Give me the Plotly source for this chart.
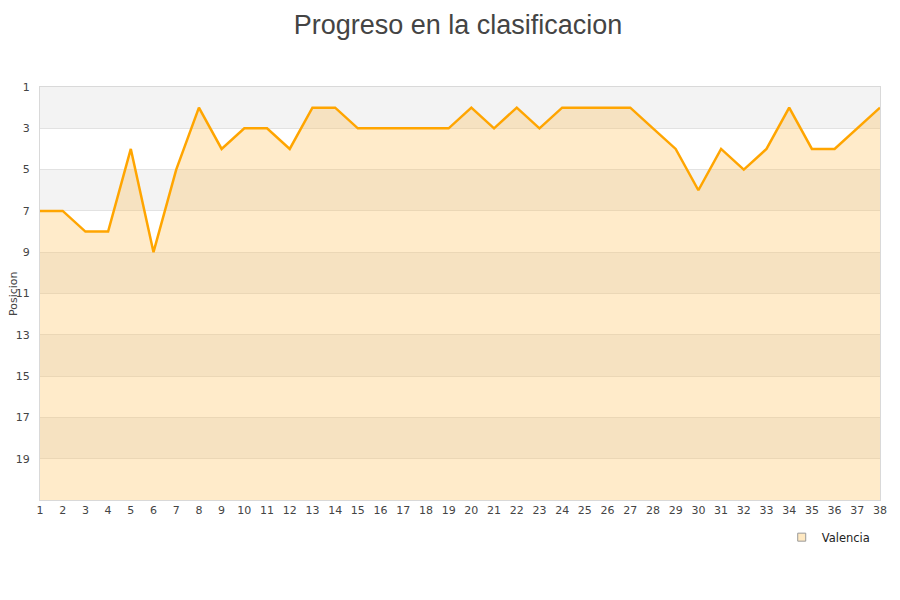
import plotly.graph_objects as go

jornadas = list(range(1, 39))
posiciones = [7, 7, 8, 8, 4, 9, 5, 2, 4, 3, 3, 4, 2, 2, 3, 3, 3, 3, 3, 2,
              3, 2, 3, 2, 2, 2, 2, 3, 4, 6, 4, 5, 4, 2, 4, 4, 3, 2]
equipo = "Valencia"
y_ticks = list(range(1, 20, 2))
fondo = [21] * len(jornadas)

fig = go.Figure()
fig.add_trace(go.Scatter(x=jornadas, y=fondo, mode="lines", line=dict(width=0),
                         showlegend=False, hoverinfo="skip"))
fig.add_trace(go.Scatter(x=jornadas, y=posiciones, mode="lines", name=equipo,
                         fill="tonexty", fillcolor="rgba(255,190,80,0.3)",
                         line=dict(color="#ffa500", width=2.5), showlegend=False))
fig.add_trace(go.Scatter(x=[None], y=[None], mode="markers", name=equipo,
                         marker=dict(symbol="square", size=8, color="#ffe9c2",
                                     line=dict(color="#999999", width=1))))

shapes = []
for y0 in [1, 5, 9, 13, 17]:
    shapes.append(dict(type="rect", xref="paper", yref="y", x0=0, x1=1, y0=y0, y1=y0 + 2,
                       fillcolor="#f3f3f3", line=dict(width=0), layer="below"))

fig.update_layout(
    width=900, height=600,
    margin=dict(l=32, r=28, t=79, b=108),
    paper_bgcolor="white", plot_bgcolor="white",
    title=dict(text="Progreso en la clasificacion", x=0.5, xanchor="center", y=0.972, yanchor="middle",
               font=dict(family="Liberation Sans, Arial, sans-serif", size=27, color="#444444")),
    font=dict(family="DejaVu Sans, Verdana, sans-serif", size=11, color="#444444"),
    shapes=shapes,
    showlegend=True,
    legend=dict(x=0.883, y=-0.09, xanchor="left", yanchor="middle",
                bgcolor="rgba(0,0,0,0)", font=dict(size=11.5, color="#222222"),
                itemwidth=30),
    annotations=[dict(text="Posicion", xref="paper", yref="paper", x=-0.0315, y=0.5,
                      xanchor="center", yanchor="middle", textangle=-90, showarrow=False,
                      font=dict(size=11, color="#444444"))],
    xaxis=dict(range=[1, 38], tickmode="array", tickvals=jornadas, ticktext=[str(j) for j in jornadas],
               showgrid=False, zeroline=False, showline=True, linecolor="#d9d9d9", mirror=True,
               ticks="", automargin=False, tickfont=dict(size=11, color="#444444")),
    yaxis=dict(range=[21, 1], tickmode="array", tickvals=y_ticks, ticktext=[str(t) for t in y_ticks],
               showgrid=True, gridcolor="#e2e2e2", gridwidth=1, zeroline=False,
               showline=True, linecolor="#d9d9d9", mirror=True, ticks="",
               ticklabelstandoff=7, automargin=False,
               tickfont=dict(size=11, color="#444444")),
)

fig.write_html("out.html")
